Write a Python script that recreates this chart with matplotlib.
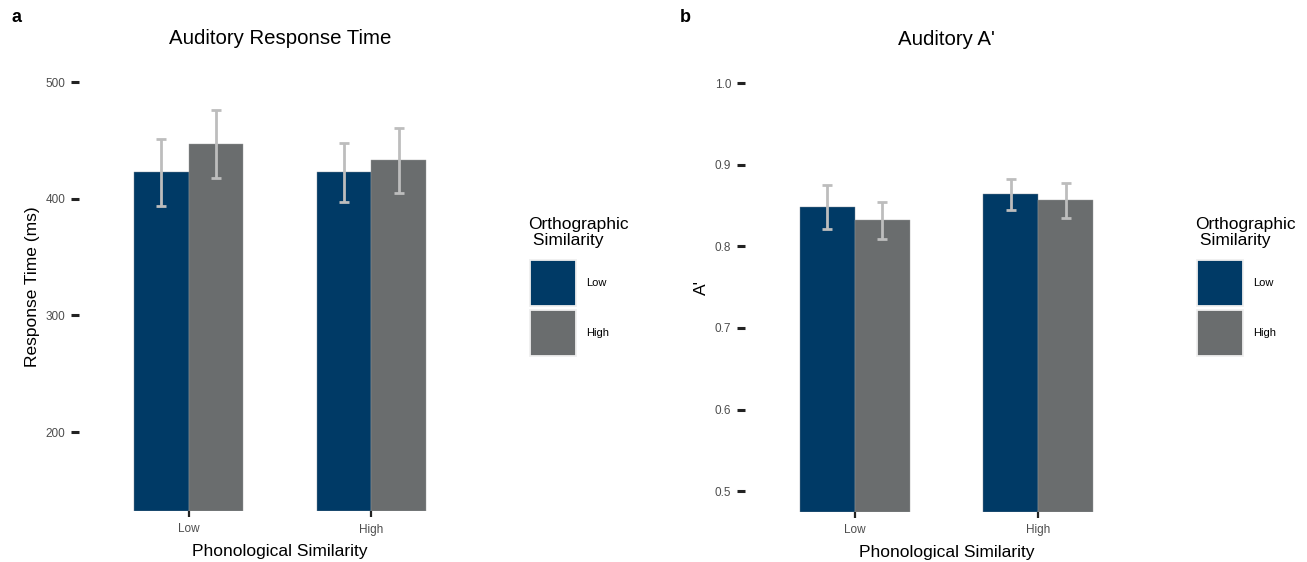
import matplotlib
matplotlib.use("Agg")
import matplotlib.pyplot as plt
from matplotlib.patches import Rectangle
import numpy as np

plt.rcParams['font.family'] = ['Liberation Sans', 'DejaVu Sans']

# group labels and series
phon = ["Low", "High"]
ortho = ["Low", "High"]

rt_low = [422.5, 422.5]
rt_high = [446.9, 432.8]
rt_low_err = [29.0, 25.0]
rt_high_err = [29.0, 27.7]

ap_low = [0.8485, 0.864]
ap_high = [0.8317, 0.8566]
ap_low_err = [0.027, 0.019]
ap_high_err = [0.023, 0.0215]

rt_ticks = [200, 300, 400, 500]
ap_ticks = [0.5, 0.6, 0.7, 0.8, 0.9, 1.0]

BLUE = "#003a66"
GREY = "#6a6d6e"
ERR = "#bdbdbd"

W, H = 1307, 562
fig = plt.figure(figsize=(W / 100, H / 100), dpi=100)


def legend_box(ax):
    # legend keys drawn as big squares to the right of the panel (pixel layout)
    x0 = ax.get_position().x1 * W + 49
    fig.text((x0 - 2) / W, 1 - 217 / H, "Orthographic\n Similarity", fontsize=12.5,
             va="top", ha="left", linespacing=1.12)
    for i, (lab, col) in enumerate(zip(ortho, [BLUE, GREY])):
        top = 260 + i * 50
        fig.add_artist(Rectangle((x0 / W, 1 - (top + 46) / H), 46 / W, 46 / H,
                                 transform=fig.transFigure, facecolor=col,
                                 edgecolor="#efefef", linewidth=1.3))
        fig.text((x0 + 56) / W, 1 - (top + 23) / H, lab, fontsize=8,
                 va="center", ha="left")


def panel(rect, low, high, low_err, high_err, ylim, ticks, fmt, title, ylabel):
    ax = fig.add_axes(rect)
    x = np.arange(1, len(phon) + 1)
    bw = 0.3
    # bars start at the bottom of the panel
    ax.bar(x - bw / 2, np.array(low) - ylim[0], bw, bottom=ylim[0], color=BLUE,
           edgecolor="#7f8a96", linewidth=0.3)
    ax.bar(x + bw / 2, np.array(high) - ylim[0], bw, bottom=ylim[0], color=GREY,
           edgecolor="#9a9c9d", linewidth=0.3)
    ax.errorbar(x - bw / 2, low, yerr=low_err, fmt="none", ecolor=ERR,
                elinewidth=2.0, capsize=3.3, capthick=2.0)
    ax.errorbar(x + bw / 2, high, yerr=high_err, fmt="none", ecolor=ERR,
                elinewidth=2.0, capsize=3.3, capthick=2.0)
    ax.set_xlim(0.4, 2.6)
    ax.set_ylim(*ylim)
    ax.set_xticks(x)
    ax.set_xticklabels(phon)
    ax.set_yticks(ticks)
    ax.set_yticklabels([fmt.format(t) for t in ticks])
    for s in ax.spines.values():
        s.set_visible(False)
    ax.tick_params(axis="y", length=5.5, width=2.2, color="#222222", pad=4.5,
                   labelsize=8.5, labelcolor="#4d4d4d")
    ax.tick_params(axis="x", length=4.5, width=1.6, color="#222222", pad=4.5,
                   labelsize=8.5, labelcolor="#4d4d4d")
    ax.set_title(title, fontsize=14.7, pad=13)
    ax.set_xlabel("Phonological Similarity", fontsize=12.5, labelpad=6)
    ax.set_ylabel(ylabel, fontsize=12.5, labelpad=4)
    legend_box(ax)
    return ax


axa = panel([79 / W, 51 / H, 402 / W, 449.4 / H], rt_low, rt_high, rt_low_err,
            rt_high_err, (132.5, 517.5), rt_ticks, "{:d}",
            "Auditory Response Time", "Response Time (ms)")
axb = panel([745 / W, 50.3 / H, 403 / W, 449.1 / H], ap_low, ap_high, ap_low_err,
            ap_high_err, (0.475, 1.025), ap_ticks, "{:.1f}",
            "Auditory A'", "A'")

fig.text(12 / W, 1 - 18 / H, "a", fontsize=13, fontweight="bold", va="center")
fig.text(680 / W, 1 - 18 / H, "b", fontsize=13, fontweight="bold", va="center")

fig.savefig("out.png", dpi=100)
